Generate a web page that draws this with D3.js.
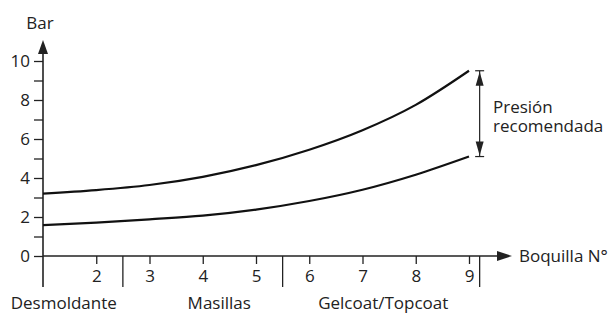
<!DOCTYPE html>
<html><head><meta charset="utf-8">
<script src="https://cdn.jsdelivr.net/npm/d3@7"></script>
<style>
html,body{margin:0;padding:0;background:#fff;}
text{font-family:"Open Sans",sans-serif;fill:#222;}
</style></head>
<body>
<svg id="c" width="613" height="316"></svg>
<script>
// Data
const nozzles = [1, 2, 3, 4, 5, 6, 7, 8, 9];
const upperPressure = [3.2, 3.38, 3.64, 4.06, 4.66, 5.45, 6.45, 7.75, 9.5];
const lowerPressure = [1.58, 1.71, 1.88, 2.07, 2.38, 2.82, 3.4, 4.17, 5.1];
const yTicks = [0, 1, 2, 3, 4, 5, 6, 7, 8, 9, 10];
const xTicks = [2, 3, 4, 5, 6, 7, 8, 9];
const groupBounds = [2.5, 5.5, 9.2];
const groupNames = ["Desmoldante", "Masillas", "Gelcoat/Topcoat"];
const groupCenters = [1.39, 4.31, 7.39];
const yTitle = "Bar";
const xTitle = "Boquilla N°";
const noteLines = ["Presión", "recomendada"];

const svg = d3.select("#c");
const ink = "#222";
const FS = 17;

const x = d3.scaleLinear().domain([1, 9]).range([43, 469]);
const y = d3.scaleLinear().domain([0, 10]).range([256, 61]);
const x0 = x(1), y0 = y(0);

// Y axis
const yAx = svg.append("g").attr("transform", `translate(${x0},0)`)
  .call(d3.axisLeft(y).tickValues(yTicks).tickSize(9).tickPadding(4)
    .tickFormat(d => d % 2 === 0 ? d : ""));
yAx.select(".domain").remove();
yAx.selectAll("line").attr("stroke", ink).attr("stroke-width", 1.3);
yAx.selectAll("text").style("font-size", FS + "px").style("font-family", "'Open Sans',sans-serif").attr("fill", ink);

svg.append("line").attr("x1", x0).attr("x2", x0).attr("y1", 287).attr("y2", 50)
  .attr("stroke", ink).attr("stroke-width", 1.6);
svg.append("path").attr("d", `M${x0},40 L${x0-5},54 L${x0+5},54 Z`).attr("fill", ink);
svg.append("text").attr("x", 40).attr("y", 29).attr("text-anchor", "middle")
  .style("font-size", FS + "px").text(yTitle);

// X axis
const xAx = svg.append("g").attr("transform", `translate(0,${y0})`)
  .call(d3.axisBottom(x).tickValues(xTicks).tickSize(8).tickPadding(6).tickFormat(d3.format("d")));
xAx.select(".domain").remove();
xAx.selectAll("line").attr("stroke", ink).attr("stroke-width", 1.3);
xAx.selectAll("text").style("font-size", FS + "px").style("font-family", "'Open Sans',sans-serif").attr("fill", ink);

svg.append("line").attr("x1", x0).attr("x2", 500).attr("y1", y0).attr("y2", y0)
  .attr("stroke", ink).attr("stroke-width", 1.6);
svg.append("path").attr("d", `M512,${y0} L497,${y0-5} L497,${y0+5} Z`).attr("fill", ink);
svg.append("text").attr("x", 519).attr("y", y0 + 6).style("font-size", FS + "px").text(xTitle);

// Group separators
svg.selectAll(".sep").data(groupBounds).enter().append("line")
  .attr("x1", d => x(d)).attr("x2", d => x(d)).attr("y1", y0).attr("y2", 287)
  .attr("stroke", ink).attr("stroke-width", 1.3);
svg.selectAll(".grp").data(groupNames).enter().append("text")
  .attr("x", (d, i) => x(groupCenters[i])).attr("y", 309).attr("text-anchor", "middle")
  .style("font-size", FS + "px").text(d => d);

// Curves
const line = d3.line().x((d, i) => x(nozzles[i])).y(d => y(d)).curve(d3.curveMonotoneX);
[upperPressure, lowerPressure].forEach(s => {
  svg.append("path").attr("d", line(s)).attr("fill", "none")
    .attr("stroke", "#111").attr("stroke-width", 2.2);
});

// Annotation bracket
const bx = x(groupBounds[2]);
const yt = y(upperPressure[upperPressure.length - 1]);
const yb = y(lowerPressure[lowerPressure.length - 1]);
svg.append("line").attr("x1", bx).attr("x2", bx).attr("y1", yt).attr("y2", yb)
  .attr("stroke", ink).attr("stroke-width", 1.2);
[yt, yb].forEach(v => svg.append("line").attr("x1", bx - 4.5).attr("x2", bx + 4.5)
  .attr("y1", v).attr("y2", v).attr("stroke", ink).attr("stroke-width", 1.2));
svg.append("path").attr("d", `M${bx},${yt+1} L${bx-4},${yt+15} L${bx+4},${yt+15} Z`).attr("fill", ink);
svg.append("path").attr("d", `M${bx},${yb-1} L${bx-4},${yb-15} L${bx+4},${yb-15} Z`).attr("fill", ink);
const note = svg.append("text").attr("x", 493).attr("y", 113).style("font-size", FS + "px");
note.selectAll("tspan").data(noteLines).enter().append("tspan")
  .attr("x", 493).attr("dy", (d, i) => i === 0 ? 0 : 18.5).text(d => d);
</script>
</body></html>
